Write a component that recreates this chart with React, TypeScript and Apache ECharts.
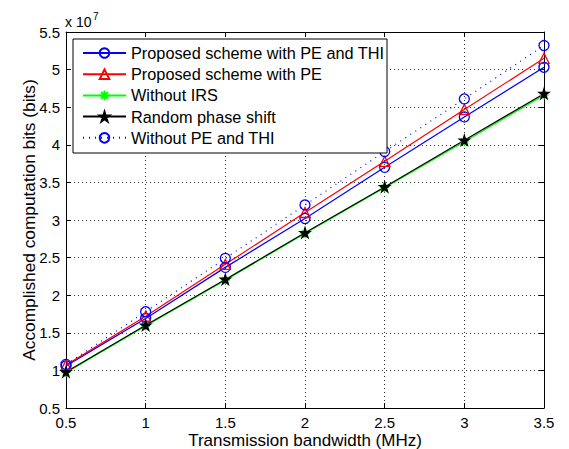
import React, { useEffect, useRef } from "react";
import * as echarts from "echarts";

const xValues = [0.5, 1, 1.5, 2, 2.5, 3, 3.5];
const peThi = [1.06, 1.69, 2.37, 3.02, 3.70, 4.37, 5.03];
const peOnly = [1.07, 1.72, 2.41, 3.10, 3.78, 4.47, 5.15];
const withoutIrs = [0.97, 1.59, 2.20, 2.82, 3.43, 4.04, 4.66];
const randomPhase = [0.98, 1.60, 2.21, 2.83, 3.44, 4.06, 4.68];
const withoutPeThi = [1.08, 1.78, 2.49, 3.20, 3.91, 4.61, 5.32];
const seriesNames = [
  "Proposed scheme with PE and THI",
  "Proposed scheme with PE",
  "Without IRS",
  "Random phase shift",
  "Without PE and THI",
];

const FONT = "'Liberation Sans', Arial, Helvetica, sans-serif";
const STAR =
  "path://M50,0 L61.2,34.5 L97.6,34.5 L68.2,55.9 L79.4,90.5 L50,69.1 L20.6,90.5 L31.8,55.9 L2.4,34.5 L38.8,34.5 Z";
const ASTER =
  "path://M5,0 L5,10 M0,5 L10,5 M1.5,1.5 L8.5,8.5 M8.5,1.5 L1.5,8.5";

function pairs(ys: number[]) {
  return xValues.map((x, i) => [x, ys[i]]);
}

export default function App() {
  const ref = useRef<HTMLDivElement>(null);
  useEffect(() => {
    if (!ref.current) return;
    const chart = echarts.init(ref.current, null, { renderer: "svg" });
    const axisCommon = {
      type: "value" as const,
      axisLine: { show: true, onZero: false, lineStyle: { color: "#000", width: 1 } },
      axisTick: { show: true, inside: true, length: 5, lineStyle: { color: "#000" } },
    };
    const mk = (
      name: string,
      data: number[],
      color: string,
      symbol: string,
      size: number,
      dotted = false,
      fill = "none"
    ) => ({
      type: "line",
      name,
      data: pairs(data),
      xAxisIndex: 0,
      yAxisIndex: 0,
      symbol,
      symbolSize: size,
      showAllSymbol: true,
      lineStyle: { color, width: 1.2, type: dotted ? [1, 5] : "solid" },
      itemStyle: { color: fill, borderColor: color, borderWidth: 1.3 },
      emphasis: { disabled: true },
      z: 2,
    });
    chart.setOption({
      animation: false,
      backgroundColor: "#fff",
      textStyle: { fontFamily: FONT },
      grid: {
        left: 66,
        right: 25,
        top: 32,
        bottom: 41,
        containLabel: false,
        outerBoundsMode: "none",
      },
      xAxis: [
        {
          ...axisCommon,
          min: 0.5,
          max: 3.5,
          interval: 0.5,
          position: "bottom",
          name: "Transmission bandwidth (MHz)",
          nameLocation: "middle",
          nameGap: 23.5,
          nameMoveOverlap: false,
          nameTextStyle: { fontSize: 17, color: "#000", fontFamily: FONT },
          axisLabel: { show: true, fontSize: 15, color: "#000", margin: 7, fontFamily: FONT },
          splitLine: { show: true, lineStyle: { color: "#333", type: [1, 3], width: 1 } },
        },
        {
          ...axisCommon,
          min: 0.5,
          max: 3.5,
          interval: 0.5,
          position: "top",
          axisLabel: { show: false },
          splitLine: { show: false },
        },
      ],
      yAxis: [
        {
          ...axisCommon,
          min: 0.5,
          max: 5.5,
          interval: 0.5,
          position: "left",
          name: "Accomplished computation bits (bits)",
          nameLocation: "middle",
          nameGap: 29,
          nameMoveOverlap: false,
          nameTextStyle: { fontSize: 17.3, color: "#000", fontFamily: FONT },
          axisLabel: { show: true, fontSize: 15, color: "#000", margin: 6, fontFamily: FONT },
          splitLine: { show: true, lineStyle: { color: "#333", type: [1, 3], width: 1 } },
        },
        {
          ...axisCommon,
          min: 0.5,
          max: 5.5,
          interval: 0.5,
          position: "right",
          axisLabel: { show: false },
          splitLine: { show: false },
        },
      ],
      legend: {
        show: true,
        orient: "vertical",
        left: 82,
        top: 45,
        padding: 0,
        itemWidth: 43,
        itemHeight: 12,
        itemGap: 5.2,
        selectedMode: false,
        textStyle: { fontSize: 16.3, color: "#000", fontFamily: FONT },
        data: seriesNames,
        z: 5,
      },
      graphic: [
        {
          type: "rect",
          z: 4,
          shape: { x: 73, y: 39, width: 314, height: 114 },
          style: { fill: "#fff", stroke: "#000", lineWidth: 1 },
        },
        {
          type: "text",
          z: 5,
          x: 65,
          y: 22,
          style: { text: "x 10", fontSize: 14, fill: "#000", fontFamily: FONT, verticalAlign: "middle" },
        },
        {
          type: "text",
          z: 5,
          x: 93,
          y: 16,
          style: { text: "7", fontSize: 10, fill: "#000", fontFamily: FONT, verticalAlign: "middle" },
        },
      ],
      series: [
        mk(seriesNames[0], peThi, "#0000ff", "circle", 10),
        mk(seriesNames[1], peOnly, "#ff0000", "triangle", 10),
        mk(seriesNames[2], withoutIrs, "#00ff00", ASTER, 9),
        mk(seriesNames[3], randomPhase, "#000000", STAR, 10, false, "#000"),
        mk(seriesNames[4], withoutPeThi, "#0000ff", "circle", 10, true),
      ],
    });
    return () => chart.dispose();
  }, []);
  return (
    <div
      ref={ref}
      style={{ position: "fixed", left: 0, top: 0, width: 569, height: 449 }}
    />
  );
}
